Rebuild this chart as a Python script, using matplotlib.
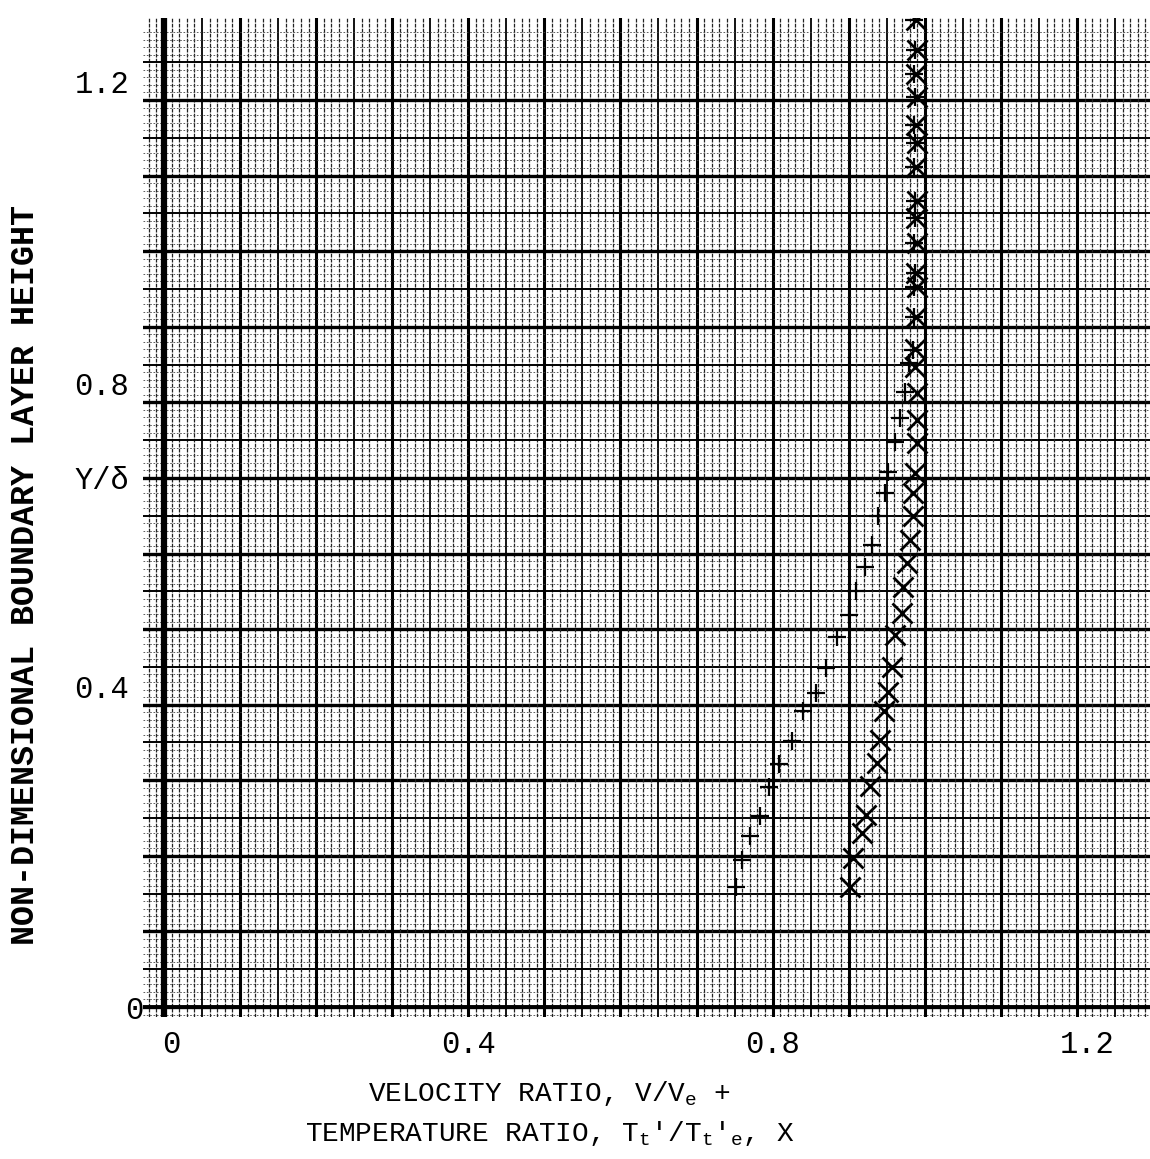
import numpy as np
import matplotlib
matplotlib.use("Agg")
import matplotlib.pyplot as plt
import matplotlib.transforms as mtransforms

# velocity ratio V/Ve  (+)
vel_x = [0.752, 0.760, 0.770, 0.783, 0.795, 0.809, 0.825, 0.840, 0.857, 0.870,
         0.884, 0.900, 0.910, 0.921, 0.930, 0.939, 0.948, 0.952, 0.961, 0.968,
         0.974, 0.979, 0.984, 0.986, 0.986, 0.987, 0.986, 0.987, 0.987, 0.986,
         0.987, 0.986, 0.987, 0.986, 0.987, 0.986]
vel_y = [0.159, 0.194, 0.226, 0.253, 0.291, 0.321, 0.352, 0.391, 0.416, 0.449,
         0.490, 0.519, 0.551, 0.582, 0.611, 0.649, 0.680, 0.708, 0.748, 0.779,
         0.814, 0.852, 0.869, 0.913, 0.952, 0.971, 1.011, 1.044, 1.067, 1.111,
         1.143, 1.167, 1.204, 1.235, 1.266, 1.306]

# temperature ratio Tt'/Tt'e  (x)
temp_x = [0.902, 0.905, 0.917, 0.923, 0.928, 0.937, 0.941, 0.946, 0.952, 0.957,
          0.961, 0.970, 0.972, 0.977, 0.981, 0.984, 0.985, 0.987, 0.990, 0.990,
          0.990, 0.987, 0.987, 0.989, 0.990, 0.989, 0.990, 0.989, 0.990, 0.989,
          0.990, 0.989, 0.990, 0.989, 0.990, 0.989]
temp_y = [0.159, 0.197, 0.230, 0.254, 0.293, 0.323, 0.353, 0.391, 0.417, 0.450,
          0.492, 0.521, 0.556, 0.587, 0.618, 0.649, 0.680, 0.706, 0.746, 0.776,
          0.812, 0.847, 0.871, 0.913, 0.952, 0.971, 1.011, 1.044, 1.067, 1.111,
          1.143, 1.167, 1.204, 1.235, 1.266, 1.306]

xtick_vals = [0, 0.4, 0.8, 1.2]
xtick_labels = ["0", "0.4", "0.8", "1.2"]
ytick_vals = [0, 0.4, 0.7, 0.8, 1.2]
ytick_labels = ["0", "0.4", "Y/δ", "0.8", "1.2"]

FONT = "Liberation Mono"

fig = plt.figure(figsize=(11.5, 11.59), dpi=100)
ax = fig.add_axes([0.1243, 0.1225, 0.8757, 0.862])
ax.set_xlim(-0.0276, 1.296)
ax.set_ylim(-0.0132, 1.3085)

# graph paper: fine every 0.01, medium every 0.05, heavy every 0.1
fine = np.round(np.arange(-0.02, 1.30, 0.01), 2)
for v in fine:
    k = int(round(v * 100))
    if k % 10 == 0:
        ax.axvline(v, color="black", lw=2.2, zorder=1)
        ax.axhline(v, color="black", lw=2.4, zorder=1)
    elif k % 5 == 0:
        ax.axvline(v, color="black", lw=1.3, zorder=1)
        ax.axhline(v, color="black", lw=1.4, zorder=1)
    else:
        ax.axvline(v, color="#222222", lw=0.9, ls=(0, (3, 1)), zorder=1)
        ax.axhline(v, color="#444444", lw=0.6, ls=(0, (2, 2)), zorder=1)
ax.axvline(0, color="black", lw=4.5, zorder=1)
ax.axhline(0, color="black", lw=2.8, zorder=1)

ax.plot(vel_x, vel_y, ls="none", marker="+", ms=13, mew=1.6, color="black", zorder=3)
ax.plot(temp_x, temp_y, ls="none", marker="x", ms=15, mew=2.0, color="black", zorder=3)

for s in ax.spines.values():
    s.set_visible(False)

ax.set_xticks(xtick_vals, xtick_labels, fontsize=22, family=FONT)
ax.set_yticks(ytick_vals, ytick_labels, fontsize=22, family=FONT)
ax.tick_params(axis="x", length=0, pad=9)
ax.tick_params(axis="y", length=0, pad=10)

def nudge(lbl, dx_px, dy_px=0):
    off = mtransforms.ScaledTranslation(dx_px / 100, dy_px / 100, fig.dpi_scale_trans)
    lbl.set_transform(lbl.get_transform() + off)

for lbl, v in zip(ax.get_yticklabels(), ytick_vals):
    if v in (0.4, 0.8, 1.2):
        lbl.set_va("bottom")
    if v == 0:
        nudge(lbl, 14)
for lbl, v in zip(ax.get_xticklabels(), xtick_vals):
    if v == 0:
        nudge(lbl, 7)
    if v == 1.2:
        nudge(lbl, 10)

ax.set_ylabel("NON-DIMENSIONAL BOUNDARY LAYER HEIGHT", fontsize=24,
              family=FONT, fontweight="bold")
ax.yaxis.label.set_va("center")
ax.yaxis.set_label_coords(-0.117, 0.4425)

ax.set_xlabel("VELOCITY RATIO, V/V$_{\\mathregular{e}}$ +\n"
              "TEMPERATURE RATIO, T$_{\\mathregular{t}}$'/T$_{\\mathregular{t}}$'$_{\\mathregular{e}}$, X",
              fontsize=20, family=FONT, linespacing=1.5)
ax.xaxis.set_label_coords(0.404, -0.062)

fig.savefig("out.png", dpi=100)
